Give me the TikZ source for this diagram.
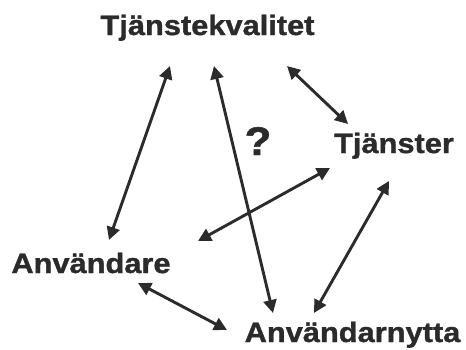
\documentclass[tikz,border=0pt]{standalone}
\usepackage{fontspec}
\usetikzlibrary{arrows.meta}
\newfontfamily\labfont{Liberation Sans}[FakeStretch=1.1,BoldFeatures={FakeBold=1.2}]
\definecolor{ink}{HTML}{2B2B2B}
\tikzset{
  lab/.style={font=\labfont\bfseries\fontsize{28}{30}\selectfont, text=ink, anchor=base, inner sep=0pt},
  qmark/.style={font=\labfont\bfseries\fontsize{40}{42}\selectfont, text=ink, anchor=base, inner sep=0pt},
  link/.style={draw=ink, line width=2.9pt, {Triangle[length=13pt,width=13pt]}-{Triangle[length=13pt,width=13pt]}}
}
\begin{document}
\begin{tikzpicture}[x=1pt,y=-1pt]
\useasboundingbox[fill=white] (0,0) rectangle (466,349);
\node[lab] (tk) at (207.5,35) {Tjänstekvalitet};
\node[lab] (tj) at (394,153) {Tjänster};
\node[lab] (an) at (91,273) {Användare};
\node[lab] (any) at (352.5,342) {Användarnytta};
\node[qmark] (q) at (258,155) {?};
% connector end points
\coordinate (tk-a) at (170,66);
\coordinate (tk-b) at (214,66);
\coordinate (tk-c) at (287,66);
\coordinate (tj-a) at (348,124);
\coordinate (tj-b) at (330,168);
\coordinate (tj-c) at (389,181);
\coordinate (an-a) at (109,240);
\coordinate (an-b) at (198,241);
\coordinate (an-c) at (138,283);
\coordinate (any-a) at (273,313);
\coordinate (any-b) at (314,313);
\coordinate (any-c) at (227,330);
\draw[link] (tk-a) -- (an-a);
\draw[link] (tk-b) -- (any-a);
\draw[link] (tk-c) -- (tj-a);
\draw[link] (tj-b) -- (an-b);
\draw[link] (tj-c) -- (any-b);
\draw[link] (an-c) -- (any-c);
\end{tikzpicture}
\end{document}
